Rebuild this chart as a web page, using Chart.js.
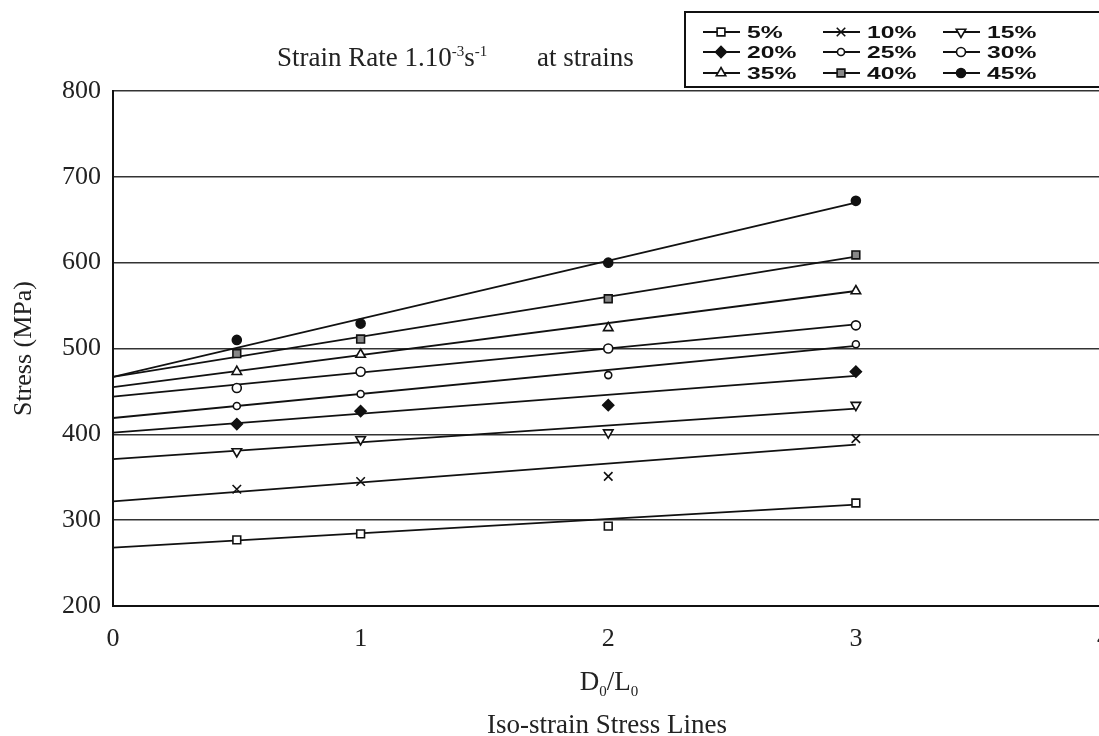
<!DOCTYPE html>
<html>
<head>
<meta charset="utf-8">
<title>Iso-strain Stress Lines</title>
<script src="https://cdn.jsdelivr.net/npm/chart.js@4.4.1/dist/chart.umd.min.js"></script>
<style>
  html, body { margin: 0; padding: 0; background: #fff; overflow: hidden; }
  #wrap { position: relative; width: 1099px; height: 736px; overflow: hidden; }
  #stressChart { position: absolute; left: 0; top: 0; }
  .txt { position: absolute; font-family: 'Liberation Serif', 'Times New Roman', serif; font-size: 27px; line-height: 30px; color: #222; white-space: nowrap; }
  .txt sup { font-size: 15px; line-height: 0; vertical-align: 10px; }
  .txt sub { font-size: 15px; line-height: 0; vertical-align: -6px; }
</style>
</head>
<body>
<div id="wrap">
  <canvas id="stressChart" width="1128" height="736"></canvas>
  <div class="txt" style="left:277px; top:42px;">Strain Rate 1.10<sup>-3</sup>s<sup>-1</sup></div>
  <div class="txt" style="left:537px; top:42px;">at strains</div>
  <div class="txt" style="left:609px; top:666px; transform:translateX(-50%);">D<sub>0</sub>/L<sub>0</sub></div>
  <div class="txt" style="left:607px; top:709px; transform:translateX(-50%);">Iso-strain Stress Lines</div>
</div>
<script>
// Strain levels (one measured series + one fitted line each)
const strainLabels = ['5%', '10%', '15%', '20%', '25%', '30%', '35%', '40%', '45%'];

// Measured points: D0/L0 ratios and stress (MPa) at each strain
const ratioTested = [0.5, 1, 2, 3];
const stress5 = [277, 284, 293, 320];
const stress10 = [336, 345, 351, 395];
const stress15 = [380, 394, 402, 434];
const stress20 = [412, 427, 434, 473];
const stress25 = [433, 447, 469, 505];
const stress30 = [454, 473, 500, 527];
const stress35 = [473, 493, 524, 567];
const stress40 = [494, 511, 558, 609];
const stress45 = [510, 529, 600, 672];
const measured = [stress5, stress10, stress15, stress20, stress25, stress30, stress35, stress40, stress45];

// Iso-strain lines: stress at D0/L0 = 0 and D0/L0 = 3
const fitRatio = [0, 3];
const fitStart = [268, 322, 371, 402, 419, 444, 455, 467, 467];
const fitEnd = [318, 388, 430, 468, 503, 528, 567, 607, 670];

// Axis ticks
const xTicks = [0, 1, 2, 3, 4];
const yTicks = [200, 300, 400, 500, 600, 700, 800];

// Marker look for every strain level
const markerStyles = [
    { pointStyle: 'rect', radius: 5.5, rotation: 0, fill: '#fff' },
    { pointStyle: 'crossRot', radius: 6, rotation: 0, fill: '#fff' },
    { pointStyle: 'triangle', radius: 5.5, rotation: 180, fill: '#fff' },
    { pointStyle: 'rectRot', radius: 5.5, rotation: 0, fill: '#111' },
    { pointStyle: 'circle', radius: 3.5, rotation: 0, fill: '#fff' },
    { pointStyle: 'circle', radius: 4.5, rotation: 0, fill: '#fff' },
    { pointStyle: 'triangle', radius: 5.5, rotation: 0, fill: '#fff' },
    { pointStyle: 'rect', radius: 5.5, rotation: 0, fill: '#888' },
    { pointStyle: 'circle', radius: 4.5, rotation: 0, fill: '#111' }
];

const serif = "'Liberation Serif', 'Times New Roman', serif";

// Build the datasets from the arrays above
const datasets = [];
strainLabels.forEach((label, i) => {
    const m = markerStyles[i];
    datasets.push({
        label: label,
        isMeasured: true,
        data: ratioTested.map((x, j) => ({ x: x, y: measured[i][j] })),
        showLine: false,
        pointStyle: m.pointStyle,
        pointRadius: m.radius,
        pointRotation: m.rotation,
        pointBackgroundColor: m.fill,
        pointBorderColor: '#111',
        pointBorderWidth: 1.6
    });
    datasets.push({
        label: label + ' fit',
        data: [{ x: fitRatio[0], y: fitStart[i] }, { x: fitRatio[1], y: fitEnd[i] }],
        showLine: true,
        borderColor: '#111',
        borderWidth: 1.8,
        pointRadius: 0,
        order: 1
    });
});

// Boxed legend at the top right, three strain levels per row
const legendBox = {
    id: 'legendBox',
    afterDraw(chart) {
        const ctx = chart.ctx;
        const colX = [703, 823, 943];
        const rowY = [32, 52, 73];
        ctx.save();
        ctx.strokeStyle = '#111';
        ctx.lineWidth = 2;
        ctx.strokeRect(685, 12, 440, 75);
        chart.data.datasets.filter(d => d.isMeasured).forEach((ds, i) => {
            const x = colX[i % 3];
            const y = rowY[Math.floor(i / 3)];
            ctx.strokeStyle = '#111';
            ctx.lineWidth = 2;
            ctx.beginPath();
            ctx.moveTo(x, y);
            ctx.lineTo(x + 37, y);
            ctx.stroke();
            ctx.fillStyle = ds.pointBackgroundColor;
            ctx.lineWidth = 1.6;
            Chart.helpers.drawPoint(ctx, {
                pointStyle: ds.pointStyle,
                radius: ds.pointRadius,
                rotation: ds.pointRotation,
                borderWidth: 1.6
            }, x + 18, y);
            ctx.save();
            ctx.translate(x + 44, y);
            ctx.scale(1.45, 1);
            ctx.fillStyle = '#111';
            ctx.font = "bold 17px 'Liberation Sans', Arial, sans-serif";
            ctx.textBaseline = 'middle';
            ctx.fillText(ds.label, 0, 1);
            ctx.restore();
        });
        ctx.restore();
    }
};

const ctx = document.getElementById('stressChart').getContext('2d');

new Chart(ctx, {
    type: 'scatter',
    data: { datasets: datasets },
    plugins: [legendBox],
    options: {
        responsive: false,
        animation: false,
        layout: { padding: { top: 91, right: 0, left: 0, bottom: 0 } },
        plugins: {
            legend: { display: false },
            tooltip: { enabled: false }
        },
        scales: {
            x: {
                type: 'linear',
                min: xTicks[0],
                max: xTicks[xTicks.length - 1],
                afterBuildTicks: s => { s.ticks = xTicks.map(v => ({ value: v })); },
                afterFit: s => { s.height = 130; },
                grid: { display: false, drawTicks: false },
                border: { display: true, color: '#111', width: 2 },
                ticks: { padding: 18, color: '#222', font: { family: serif, size: 26 } }
            },
            y: {
                min: yTicks[0],
                max: yTicks[yTicks.length - 1],
                afterBuildTicks: s => { s.ticks = yTicks.map(v => ({ value: v })); },
                afterFit: s => { s.width = 113; },
                grid: { color: '#333', lineWidth: 1.6, drawTicks: false },
                border: { display: true, color: '#111', width: 2 },
                ticks: { padding: 12, color: '#222', font: { family: serif, size: 26 } },
                title: {
                    display: true,
                    text: 'Stress (MPa)',
                    color: '#222',
                    padding: { top: 9, bottom: 0 },
                    font: { family: serif, size: 26 }
                }
            }
        }
    }
});
</script>
</body>
</html>
